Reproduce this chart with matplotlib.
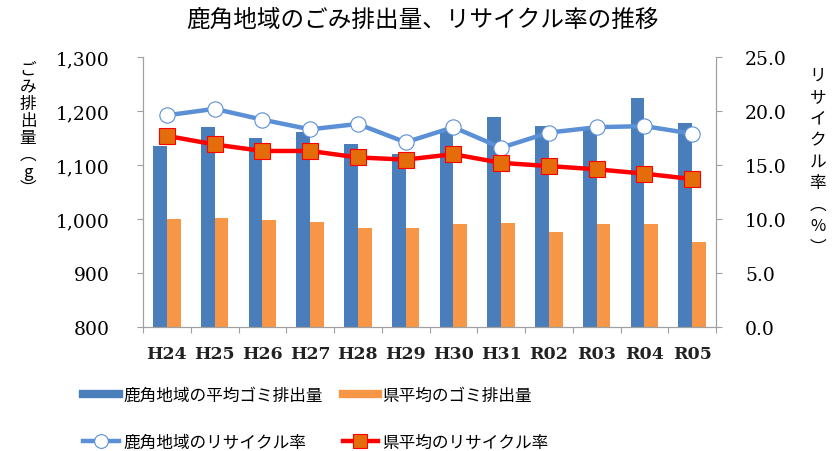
import matplotlib.pyplot as plt
from matplotlib.lines import Line2D
import numpy as np

plt.rcParams['font.family'] = ['Noto Sans CJK JP', 'DejaVu Sans']

years = ["H24", "H25", "H26", "H27", "H28", "H29", "H30", "H31", "R02", "R03", "R04", "R05"]
kazuno_waste = [1136, 1170, 1150, 1162, 1139, 1120, 1165, 1188, 1173, 1170, 1225, 1177]
pref_waste = [1000, 1001, 999, 994, 984, 984, 990, 993, 976, 990, 991, 958]
kazuno_recycle = [19.6, 20.2, 19.2, 18.3, 18.8, 17.1, 18.5, 16.6, 18.0, 18.5, 18.6, 17.9]
pref_recycle = [17.7, 16.9, 16.3, 16.3, 15.7, 15.5, 16.0, 15.2, 14.9, 14.6, 14.2, 13.7]

blue = "#4a7ebb"
orange = "#f79646"
line_blue = "#5b8fd6"
red = "#ff0000"
sq = "#e46c0a"

fig = plt.figure(figsize=(8.36, 4.52), dpi=100)
ax = fig.add_axes([143/836, 1-328/452, (716-143)/836, (328-58)/452])
ax2 = ax.twinx()

x = np.arange(len(years))
w = 0.29
ax.bar(x - w/2, kazuno_waste, w, color=blue)
ax.bar(x + w/2, pref_waste, w, color=orange)
ax.set_ylim(800, 1300)
ax.set_xlim(-0.5, len(years) - 0.5)
ax.set_yticks(range(800, 1301, 100))
ax.set_yticklabels([f"{v:,}" for v in range(800, 1301, 100)], family="DejaVu Serif", fontsize=13.5)

# ticks between categories, labels at category centres
ax.set_xticks(np.arange(-0.5, len(years)), minor=False)
ax.set_xticklabels([])
ax.set_xticks(x, minor=True)
ax.set_xticklabels(years, minor=True, family="DejaVu Serif", fontsize=12.5, fontweight="bold", color="#222222")
ax.tick_params(axis="x", which="major", length=4, color="#a0a0a0", direction="out")
ax.tick_params(axis="x", which="minor", length=0, pad=13)
ax.tick_params(axis="y", length=4, color="#a0a0a0", pad=20)

l1, = ax2.plot(x, kazuno_recycle, color=line_blue, lw=3.2, marker="o", ms=11,
               mfc="white", mec=line_blue, mew=0.8)
l2, = ax2.plot(x, pref_recycle, color=red, lw=3.2, marker="s", ms=11,
               mfc=sq, mec=red, mew=0.8)
ax2.set_ylim(0, 25)
ax2.set_yticks(np.arange(0, 25.1, 5))
ax2.set_yticklabels([f"{v:.1f}" for v in np.arange(0, 25.1, 5)], family="DejaVu Serif", fontsize=13.5)
ax2.tick_params(axis="y", length=4, color="#a0a0a0", pad=17)

for a in (ax, ax2):
    a.spines["top"].set_visible(False)
    for s in ("left", "right", "bottom"):
        a.spines[s].set_color("#a0a0a0")

fig.text(0.505, 1-20/452, "鹿角地域のごみ排出量、リサイクル率の推移", ha="center", va="center", fontsize=17)
fig.text(28/836, 1-130/452, "ご\nみ\n排\n出\n量\n︵\ng\n︶", ha="center", va="center",
         fontsize=12, linespacing=1.0)
fig.text(818/836, 1-162/452, "リ\nサ\nイ\nク\nル\n率\n︵\n%\n︶", ha="center", va="center",
         fontsize=12, linespacing=1.35)

h_blue = Line2D([], [], color=blue, lw=6)
h_orange = Line2D([], [], color=orange, lw=6)
fig.legend([h_blue, l1, h_orange, l2],
           ["鹿角地域の平均ゴミ排出量", "鹿角地域のリサイクル率", "県平均のゴミ排出量", "県平均のリサイクル率"],
           ncol=2, loc="upper left", bbox_to_anchor=(83/836, 1-388/452), frameon=False,
           borderpad=0, borderaxespad=0, handlelength=2.15, handletextpad=0.25,
           columnspacing=1.2, labelspacing=1.8, fontsize=12, markerscale=0.9)

fig.savefig("out.png", dpi=100)
